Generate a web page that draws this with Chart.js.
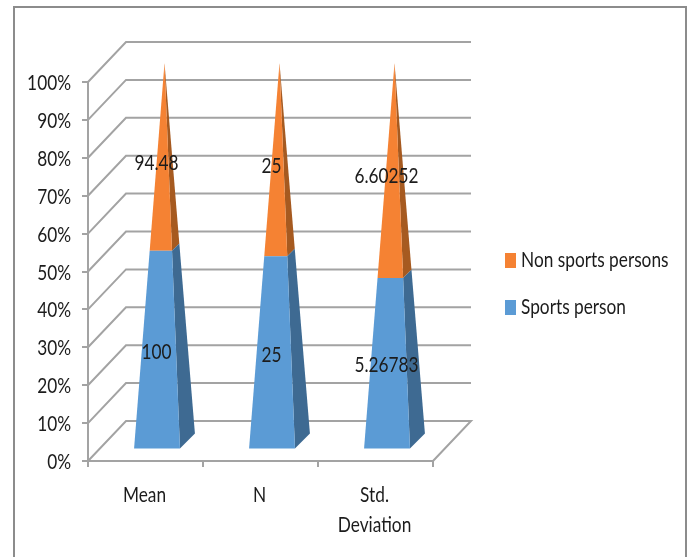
<!DOCTYPE html>
<html>
<head>
<meta charset="utf-8">
<style>
  html, body { margin: 0; padding: 0; background: #fff; }
  #wrap { position: relative; width: 689px; height: 557px; overflow: hidden; }
</style>
<script src="https://cdn.jsdelivr.net/npm/chart.js@4"></script>
</head>
<body>
<div id="wrap"><canvas id="myChart" width="689" height="557"></canvas></div>
<script>
const categories = [["Mean"], ["N"], ["Std.", "Deviation"]];
const sportsPerson = [100, 25, 5.26783];
const nonSportsPersons = [94.48, 25, 6.60252];
const sportsLabels = ["100", "25", "5.26783"];
const nonSportsLabels = ["94.48", "25", "6.60252"];
const tickLabels = ["0%", "10%", "20%", "30%", "40%", "50%", "60%", "70%", "80%", "90%", "100%"];

// share of each column, the chart is a 100% stack
const sportsShare = sportsPerson.map((v, i) => v / (v + nonSportsPersons[i]) * 100);
const nonSportsShare = nonSportsPersons.map((v, i) => v / (v + sportsPerson[i]) * 100);

const FONT = "Lato, sans-serif";
const FONT_SIZE = 22;
const TEXT_SQUEEZE = 0.785;
const GRID = "#a3a3a3";
const TEXT = "#1c1c1c";
const DEPTH_X = 38;
const DEPTH_Y = 40;

const ctx = document.getElementById("myChart").getContext("2d");

// the reference text is tall and narrow, no condensed font here so squeeze it
const plainFillText = ctx.fillText;
ctx.fillText = function (text, x, y) {
  this.save();
  this.translate(x, y);
  this.scale(TEXT_SQUEEZE, 1);
  plainFillText.call(this, text, 0, 0);
  this.restore();
};

// stacked bar that paints each element as a slice of a 3D pyramid
class PyramidController extends Chart.BarController {
  draw() {
    const ctx = this.chart.ctx;
    const yScale = this.chart.scales.y;
    const zero = yScale.getPixelForValue(0);
    const top = yScale.getPixelForValue(100);
    const ds = this.getDataset();
    this.getMeta().data.forEach((bar) => {
      const f0 = (zero - bar.base) / (zero - top);
      const f1 = (zero - bar.y) / (zero - top);
      const cx = bar.x + 19;
      const cy = (f) => zero - 19 - f * (zero - top);
      // half width and half depth shrink towards the apex
      const corner = (f, sx, sz) => {
        const k = 1 - f;
        return [cx + sx * 23 * k + sz * 7.5 * k, cy(f) + sz * -7.5 * k];
      };
      const poly = (pts, color) => {
        ctx.beginPath();
        pts.forEach((p, i) => (i ? ctx.lineTo(p[0], p[1]) : ctx.moveTo(p[0], p[1])));
        ctx.closePath();
        ctx.fillStyle = color;
        ctx.fill();
      };
      poly([corner(f0, 1, -1), corner(f0, 1, 1), corner(f1, 1, 1), corner(f1, 1, -1)], ds.sideColor);
      poly([corner(f0, -1, -1), corner(f0, 1, -1), corner(f1, 1, -1), corner(f1, -1, -1)], ds.backgroundColor);
    });
  }
}
PyramidController.id = "pyramid";
PyramidController.defaults = Chart.BarController.defaults;
PyramidController.overrides = Chart.BarController.overrides;
Chart.register(PyramidController);

// back wall, side wall and floor behind the marks
const wallsPlugin = {
  id: "walls",
  beforeDatasetsDraw(chart) {
    const { ctx, chartArea, scales } = chart;
    ctx.save();
    ctx.strokeStyle = GRID;
    ctx.lineWidth = 2;
    tickLabels.forEach((t, i) => {
      const py = scales.y.getPixelForValue(i * 10);
      ctx.beginPath();
      ctx.moveTo(chartArea.left, py);
      ctx.lineTo(chartArea.left + DEPTH_X, py - DEPTH_Y);
      ctx.lineTo(chartArea.right + DEPTH_X, py - DEPTH_Y);
      if (i === 0) ctx.lineTo(chartArea.right, py);
      ctx.stroke();
    });
    ctx.restore();
  },
};

// values printed over the pyramids, and the legend
const labelsPlugin = {
  id: "valueLabels",
  afterDatasetsDraw(chart) {
    const ctx = chart.ctx;
    ctx.save();
    ctx.font = FONT_SIZE + "px " + FONT;
    ctx.fillStyle = TEXT;
    ctx.textAlign = "center";
    ctx.textBaseline = "middle";
    [sportsLabels, nonSportsLabels].forEach((texts, d) => {
      chart.getDatasetMeta(d).data.forEach((bar, i) => {
        ctx.fillText(texts[i], bar.x + 11, (bar.y + bar.base) / 2 - 11);
      });
    });
    // legend, top row is the last series
    ctx.textAlign = "left";
    [1, 0].forEach((d, row) => {
      const ds = chart.data.datasets[d];
      const rowY = 260 + row * 47;
      ctx.fillStyle = ds.backgroundColor;
      ctx.fillRect(505, rowY - 7, 11, 15);
      ctx.fillStyle = TEXT;
      ctx.fillText(ds.label, 521, rowY);
    });
    ctx.restore();
  },
};

// thin frame of the picture
const framePlugin = {
  id: "frame",
  beforeDraw(chart) {
    const ctx = chart.ctx;
    ctx.save();
    ctx.strokeStyle = "#8c8c8c";
    ctx.lineWidth = 2;
    ctx.strokeRect(14, 7, 672, 560);
    ctx.restore();
  },
};

new Chart(ctx, {
  type: "pyramid",
  data: {
    labels: categories,
    datasets: [
      { label: "Sports person", data: sportsShare, backgroundColor: "#5b9bd5", sideColor: "#3e6a92", clip: false },
      { label: "Non sports persons", data: nonSportsShare, backgroundColor: "#f58233", sideColor: "#a65a20", clip: false },
    ],
  },
  plugins: [framePlugin, wallsPlugin, labelsPlugin],
  options: {
    responsive: false,
    animation: false,
    layout: { padding: { left: 0, right: 256, top: 82, bottom: 0 } },
    plugins: {
      tooltip: { enabled: false },
      legend: { display: false },
    },
    scales: {
      x: {
        stacked: true,
        afterFit: (s) => { s.height = 96; },
        grid: { drawOnChartArea: false, color: GRID, lineWidth: 2, tickLength: 6 },
        border: { color: GRID, width: 2 },
        ticks: { font: { family: FONT, size: FONT_SIZE, lineHeight: 1.36 }, color: TEXT, padding: 13, maxRotation: 0, labelOffset: -1 },
      },
      y: {
        stacked: true,
        min: 0,
        max: 100,
        afterFit: (s) => { s.width = 88; },
        grid: { drawOnChartArea: false, color: GRID, lineWidth: 2, tickLength: 6 },
        border: { color: GRID, width: 2 },
        ticks: {
          stepSize: 10,
          font: { family: FONT, size: FONT_SIZE },
          color: TEXT,
          padding: 11,
          labelOffset: 1,
          callback: (v) => tickLabels[v / 10],
        },
      },
    },
  },
});
</script>
</body>
</html>
